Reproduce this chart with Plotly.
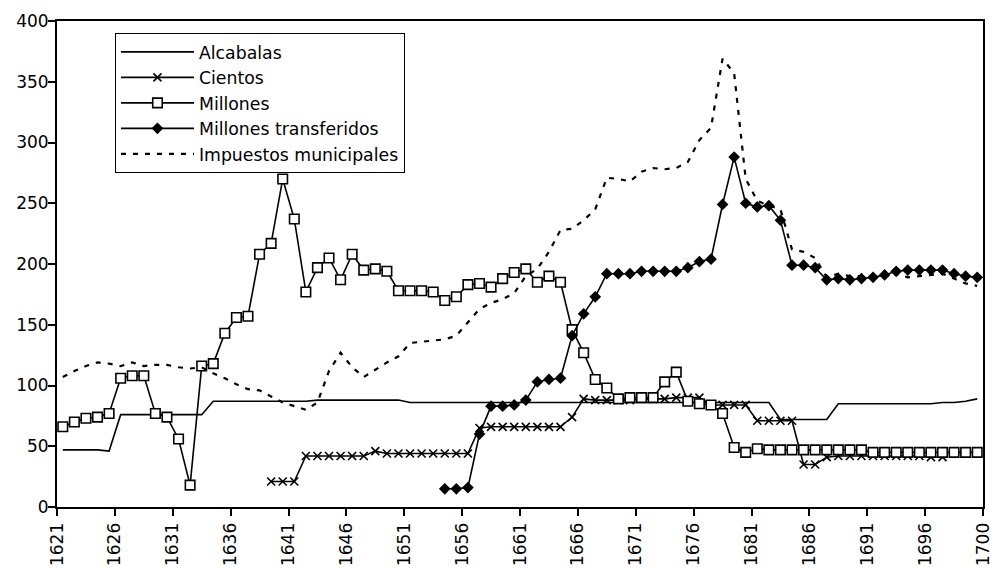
import plotly.graph_objects as go

years = list(range(1621, 1701))

alcabalas = ([47, 47, 47, 47, 46] + [76] * 8 + [87] * 9 + [88] * 8 + [86] * 32
             + [72] * 5 + [85] * 9 + [86, 86, 87, 89])

cientos = ([None] * 18 + [21, 21, 21] + [42] * 6 + [46] + [44] * 8 + [65] + [66] * 7
           + [74, 89, 88, 88, 88, 88, 89, 89, 89, 90, 90, 90] + [84] * 4 + [71] * 4
           + [35, 35, 41] + [42] * 8 + [41, 41, None, None])

millones = [66, 70, 73, 74, 77, 106, 108, 108, 77, 74, 56, 18, 116, 118, 143, 156, 157,
            208, 217, 270, 237, 177, 197, 205, 187, 208, 195, 196, 194, 178, 178, 178,
            177, 170, 173, 183, 184, 181, 188, 193, 196, 185, 190, 185, 146, 127, 105,
            98, 89, 90, 90, 90, 103, 111, 87, 85, 84, 77, 49, 45, 48, 47, 47, 47, 47,
            47, 47, 47, 47, 47, 45, 45, 45, 45, 45, 45, 45, 45, 45, 45]

transferidos = ([None] * 33
                + [15, 15, 16, 60, 83, 83, 84, 88, 103, 105, 106, 141, 159, 173, 192, 192,
                   192, 194, 194, 194, 194, 197, 202, 204, 249, 288, 250, 247, 248, 236,
                   199, 199, 197, 187, 188, 187, 188, 189, 191, 194, 195, 195, 195, 195,
                   192, 190, 189])

impuestos = [107, 112, 116, 119, 118, 116, 119, 116, 117, 117, 115, 114, 115, 110, 106,
             101, 97, 96, 91, 86, 83, 80, 86, 112, 127, 115, 107, 113, 119, 124, 135,
             136, 137, 138, 141, 152, 163, 168, 171, 176, 190, 196, 210, 228, 229, 236,
             245, 271, 270, 268, 276, 279, 278, 279, 284, 302, 312, 369, 357, 270, 252,
             248, 245, 212, 210, 205, 189, 192, 190, 190, 190, 191, 192, 189, 190, 191,
             192, 188, 184, 182]

tick_vals = [1620.5 + 5 * i for i in range(16)] + [1700.5]
tick_text = [str(1621 + 5 * i) for i in range(16)] + ["1700"]

fig = go.Figure()
lw = 1.6
fig.add_trace(go.Scatter(x=years, y=alcabalas, name="Alcabalas", mode="lines",
                         line=dict(color="black", width=lw)))
fig.add_trace(go.Scatter(x=years, y=cientos, name="Cientos", mode="lines+markers",
                         line=dict(color="black", width=lw),
                         marker=dict(symbol="x-thin", size=8, color="black",
                                     line=dict(color="black", width=1.6))))
fig.add_trace(go.Scatter(x=years, y=millones, name="Millones", mode="lines+markers",
                         line=dict(color="black", width=lw),
                         marker=dict(symbol="square", size=9.5, color="white",
                                     line=dict(color="black", width=1.6))))
fig.add_trace(go.Scatter(x=years, y=transferidos, name="Millones transferidos",
                         mode="lines+markers", line=dict(color="black", width=lw),
                         marker=dict(symbol="diamond", size=9, color="black")))
fig.add_trace(go.Scatter(x=years, y=impuestos, name="Impuestos municipales", mode="lines",
                         line=dict(color="black", width=2.2, dash="5px,7px")))

font_family = "DejaVu Sans, Liberation Sans, Arial, sans-serif"
fig.update_layout(
    width=993, height=568,
    margin=dict(l=57, r=10, t=21, b=61),
    paper_bgcolor="white", plot_bgcolor="white",
    font=dict(family=font_family, size=17, color="black"),
    showlegend=True,
    legend=dict(x=0.0626, y=0.975, xanchor="left", yanchor="top",
                bordercolor="black", borderwidth=1, bgcolor="white",
                font=dict(size=17.3, family=font_family), itemwidth=73,
                tracegroupgap=0),
    xaxis=dict(range=[1620.5, 1700.5], tickmode="array", tickvals=tick_vals,
               ticktext=tick_text, tickangle=-90, ticks="outside", ticklen=7,
               tickwidth=1.5, tickcolor="black", showline=True, linecolor="black",
               linewidth=2, mirror=True, showgrid=False, zeroline=False,
               tickfont=dict(size=17), ticklabelstandoff=0, automargin=False),
    yaxis=dict(range=[0, 400], tickmode="array", tickvals=list(range(0, 401, 50)),
               ticks="outside", ticklen=7, tickwidth=1.5, tickcolor="black",
               showline=True, linecolor="black", linewidth=2, mirror=True,
               showgrid=False, zeroline=False, tickfont=dict(size=17),
               ticklabelstandoff=-4, automargin=False),
)

fig.write_html("out.html", config={"displayModeBar": False},
               post_script="document.body.style.margin='0px';")
